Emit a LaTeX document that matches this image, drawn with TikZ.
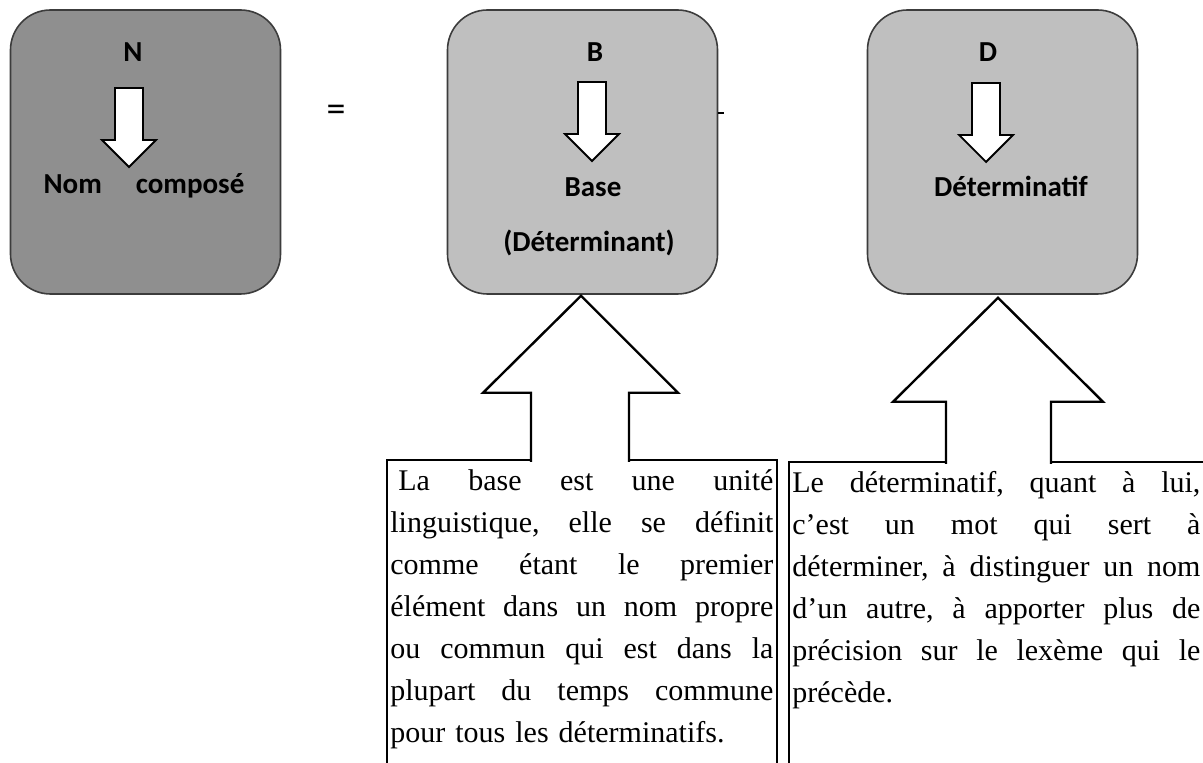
\documentclass[tikz,border=0pt]{standalone}
\usepackage{fontspec}
\setmainfont{Liberation Serif}
\newfontfamily\calibri{Carlito}
\usepackage{tikz}
\usetikzlibrary{positioning,calc}
\definecolor{boxdark}{RGB}{143,143,143}
\definecolor{boxlight}{RGB}{191,191,191}
\definecolor{boxline}{RGB}{60,60,60}
% one justified line, words spread with \hfill
\newcommand{\jl}[2]{\leavevmode\hbox to #1{#2}}

\begin{document}
\begin{tikzpicture}[
    x=0.5pt, y=-0.5pt,
    bbox/.style={draw=boxline, line width=0.8pt, rounded corners=20pt,
        minimum width=135pt, minimum height=142pt, inner sep=0pt},
    lbl/.style={font=\calibri\bfseries\fontsize{14.5}{17}\selectfont, inner sep=0pt, anchor=base},
    txtbox/.style={anchor=north west, align=left, inner xsep=1.5pt, inner ysep=0.3pt,
        font=\fontsize{15}{21}\selectfont},
    txtframe/.style={draw=black, line width=1.1pt},
    blockarrow/.style={draw=black, line width=1.2pt, fill=white},
    smallarrow/.style={draw=black, line width=0.9pt, fill=white},
    downarr/.pic={\filldraw[smallarrow] (-14,0) -- (-14,52) -- (-27,52) -- (0,79)
        -- (27,52) -- (14,52) -- (14,0) -- cycle;}
]
\useasboundingbox (0,0) rectangle (1203,763);
\clip (0,0) rectangle (1203,763);

% top row
\node[bbox, fill=boxdark] (boxN) at (145.5,152) {};
\node[bbox, fill=boxlight] (boxB) at (582.5,152) {};
\node[bbox, fill=boxlight] (boxD) at (1002.5,152) {};

\node[lbl] (nlbl) at (133,62) {N};
\pic at (129,88) {downarr};
\node[lbl] (nname) at (144,194) {Nom\hspace{17pt}composé};

\node[font=\calibri\fontsize{19}{22}\selectfont, inner sep=0pt] (eq) at (336,113) {=};
\coordinate (plusend) at (724,113);
\draw[line width=0.8pt] (boxB.east |- plusend) -- (plusend);

\node[lbl] (blbl) at (595,62) {B};
\pic at (592,82) {downarr};
\node[lbl] (bname) at (593,197) {Base};
\node[lbl] (bnote) at (589,252) {(Déterminant)};

\node[lbl] (dlbl) at (988,62) {D};
\pic at (986,83) {downarr};
\node[lbl] (dname) at (1011,197) {Déterminatif};

% text boxes
\node[txtbox, text width=191.5pt] (baseTxt) at (387,460) {%
\strut\jl{191.5pt}{\hspace*{4pt}La\hfill base\hfill est\hfill une\hfill unité}\\
\jl{191.5pt}{linguistique,\hfill elle\hfill se\hfill définit}\\
\jl{191.5pt}{comme\hfill étant\hfill le\hfill premier}\\
\jl{191.5pt}{élément\hfill dans\hfill un\hfill nom\hfill propre}\\
\jl{191.5pt}{ou\hfill commun\hfill qui\hfill est\hfill dans\hfill la}\\
\jl{191.5pt}{plupart\hfill du\hfill temps\hfill commune}\\
pour tous les déterminatifs.};
\node[txtbox, text width=204pt] (detTxt) at (789,462) {%
\strut\jl{204pt}{Le\hfill déterminatif,\hfill quant\hfill à\hfill lui,}\\
\jl{204pt}{c’est\hfill un\hfill mot\hfill qui\hfill sert\hfill à}\\
\jl{204pt}{déterminer,\hfill à\hfill distinguer\hfill un\hfill nom}\\
\jl{204pt}{d’un\hfill autre,\hfill à\hfill apporter\hfill plus\hfill de}\\
\jl{204pt}{précision\hfill sur\hfill le\hfill lexème\hfill qui\hfill le}\\
précède.};
\draw[txtframe] ($(baseTxt.north west)+(0,340)$) -- (baseTxt.north west)
    -- (baseTxt.north east) -- ++(0,340);
\draw[txtframe] ($(detTxt.north west)+(0,340)$) -- (detTxt.north west) -- ++(440,0);

% block arrows
\coordinate (tipB) at ($(boxB.south)+(-1.5,1)$);
\coordinate (tipD) at ($(boxD.south)+(-4.5,3)$);
\filldraw[blockarrow] ($(tipB)+(-50,166)$) -- ++(0,-69) -- ++(-48,0) -- (tipB)
    -- ++(97,97) -- ++(-49,0) -- ++(0,69);
\filldraw[blockarrow] ($(tipD)+(-52,166)$) -- ++(0,-62) -- ++(-53,0) -- (tipD)
    -- ++(105,104) -- ++(-52,0) -- ++(0,62);
\end{tikzpicture}
\end{document}
